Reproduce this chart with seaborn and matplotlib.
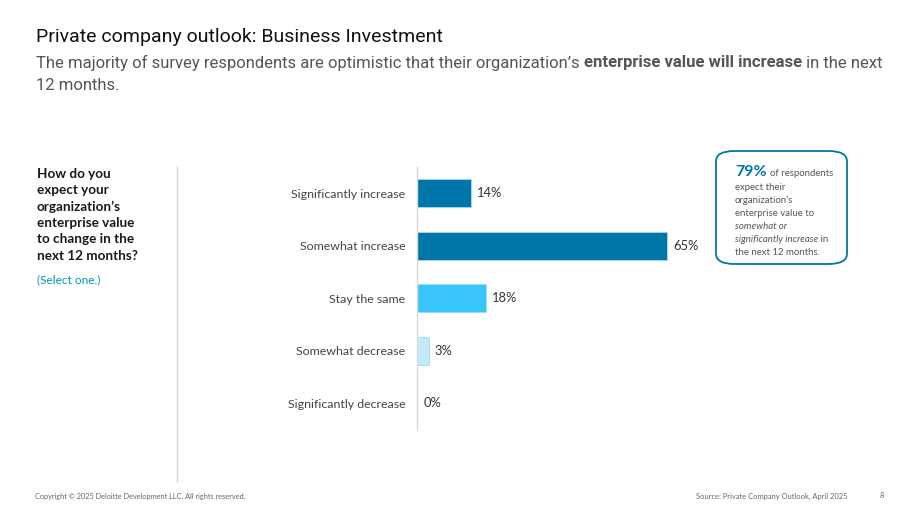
import matplotlib

matplotlib.use("Agg")

import matplotlib.pyplot as plt
import pandas as pd
import seaborn as sns
from matplotlib.patches import FancyBboxPatch
from matplotlib.lines import Line2D


categories = [
    "Significantly increase",
    "Somewhat increase",
    "Stay the same",
    "Somewhat decrease",
    "Significantly decrease",
]
shares = [14, 65, 18, 3, 0]
bar_colors = ["#0076A8", "#0076A8", "#38C5FB", "#C3EAFB", "#E6F6FD"]

title = "Private company outlook: Business Investment"
subtitle_parts = [
    ("The majority of survey respondents are optimistic that their organization\u2019s ", "normal"),
    ("enterprise value will increase", "bold"),
    (" in the next", "normal"),
]
subtitle_line2 = "12 months."
question = "How do you\nexpect your\norganization\u2019s\nenterprise value\nto change in the\nnext 12 months?"
select_note = "(Select one.)"
callout_pct = "79%"
footer_left = "Copyright \u00a9 2025 Deloitte Development LLC. All rights reserved."
footer_right = "Source: Private Company Outlook, April 2025"
page_no = "8"

W, H = 920, 518


def fx(px):
    return px / W


def fy(py):
    return 1 - py / H


sns.set_theme(style="white")
plt.rcParams["font.family"] = ["Lato", "DejaVu Sans"]

fig = plt.figure(figsize=(9.2, 5.18), dpi=100)
fig.patch.set_facecolor("white")

# chart area: x axis from 417 px, about 3.85 px per percent
ax = fig.add_axes([fx(417), fy(429.5), fx(269), 262.5 / H])
data = pd.DataFrame({"category": categories, "share": shares})
sns.barplot(
    data=data, x="share", y="category", hue="category", palette=bar_colors,
    saturation=1, legend=False, width=0.54, ax=ax, edgecolor="#9FDCF5", linewidth=0.6,
)
ax.set_xlim(0, 70)
ax.set_ylim(4.5, -0.5)
ax.set_xlabel("")
ax.set_ylabel("")
ax.set_xticks([])
ax.tick_params(axis="y", length=0, pad=8.5, labelsize=8.9, labelcolor="#444444")
for side in ["top", "right", "bottom"]:
    ax.spines[side].set_visible(False)
ax.spines["left"].set_color("#D9D9D9")
ax.spines["left"].set_linewidth(1)
for i, v in enumerate(shares):
    ax.text(v + 1.6, i, f"{v}%", va="center", ha="left", fontsize=9.3, color="#333333")

# title and subtitle
fig.text(fx(36), fy(37), title, fontsize=14, color="#111111", va="center",
         family=["Roboto", "DejaVu Sans"])
renderer = fig.canvas.get_renderer()
x = fx(36)
for txt, weight in subtitle_parts:
    t = fig.text(x, fy(63), txt, fontsize=12, color="#555555", va="center",
                 fontweight=weight, family=["Roboto", "DejaVu Sans"])
    bb = t.get_window_extent(renderer=renderer)
    x = bb.x1 / fig.bbox.width
fig.text(fx(36), fy(85), subtitle_line2, fontsize=12, color="#555555", va="center",
         family=["Roboto", "DejaVu Sans"])

# left question panel
fig.text(fx(37), fy(168), question, fontsize=9.7, fontweight="bold", color="#1A1A1A",
         va="top", ha="left", linespacing=1.42)
fig.text(fx(37), fy(280), select_note, fontsize=8.6, color="#0097A9", va="center")
fig.add_artist(Line2D([fx(177), fx(177)], [fy(166), fy(482)], color="#D9D9D9", lw=1))

# callout box
box = FancyBboxPatch((fx(716), fy(264)), fx(131), (264 - 151) / H,
                     boxstyle="round,pad=0,rounding_size=0.02",
                     transform=fig.transFigure, facecolor="white",
                     edgecolor="#0076A8", linewidth=1.3)
fig.add_artist(box)
t = fig.text(fx(735), fy(176), callout_pct, fontsize=11.5, fontweight="bold",
             color="#0076A8", va="baseline")
bb = t.get_window_extent(renderer=renderer)
fig.text(bb.x1 / fig.bbox.width + fx(3), fy(176), "of respondents", fontsize=6.9,
         color="#555555", va="baseline")
callout_lines = [
    ("expect their", "normal"),
    ("organization\u2019s", "normal"),
    ("enterprise value to", "normal"),
    ("somewhat or", "italic"),
    ("significantly increase", "italic"),
    ("the next 12 months.", "normal"),
]
yy = 190
for txt, style in callout_lines:
    t = fig.text(fx(735), fy(yy), txt, fontsize=6.9, color="#555555", va="baseline",
                 style=style)
    if txt == "significantly increase":
        bb = t.get_window_extent(renderer=renderer)
        fig.text(bb.x1 / fig.bbox.width, fy(yy), " in", fontsize=6.9, color="#555555",
                 va="baseline")
    yy += 13

# footer
fig.text(fx(35), fy(496), footer_left, fontsize=5.3, color="#666666", va="center")
fig.text(fx(848), fy(496), footer_right, fontsize=5.4, color="#666666", va="center", ha="right")
fig.text(fx(882), fy(496), page_no, fontsize=5.3, color="#666666", va="center", ha="center")

fig.savefig("out.png", dpi=100, facecolor="white")
